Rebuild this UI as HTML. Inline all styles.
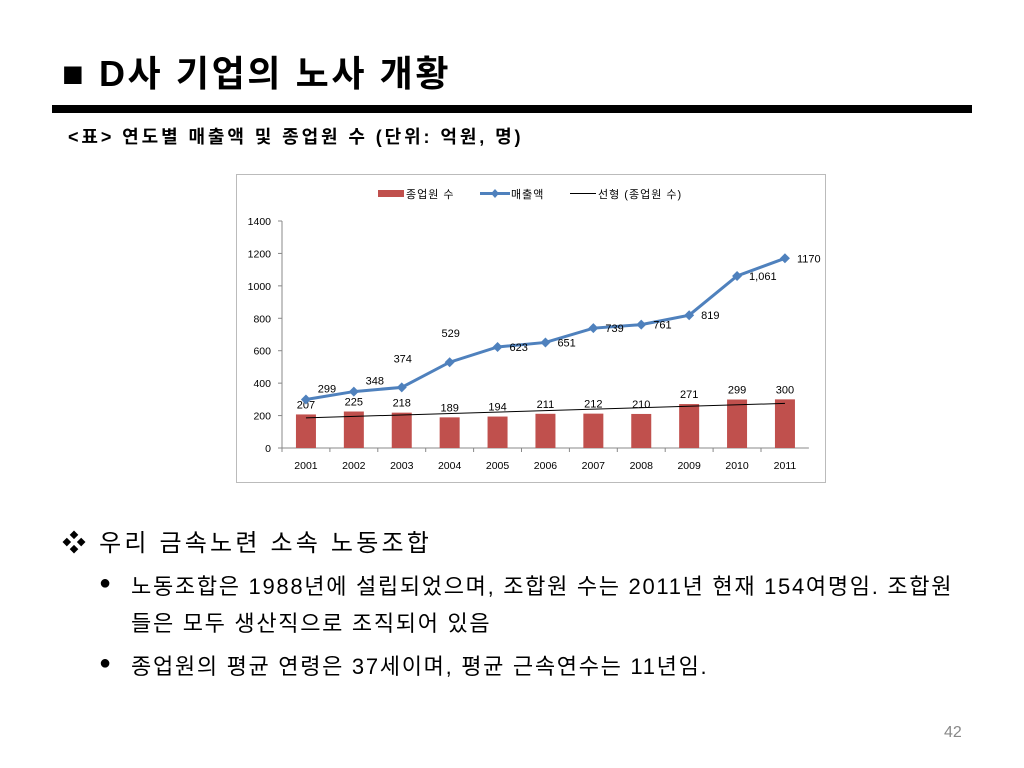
<!DOCTYPE html>
<html><head><meta charset="utf-8"><style>
body{margin:0;width:1024px;height:768px;background:#fff;position:relative;overflow:hidden;font-family:"Liberation Sans","Noto Sans CJK KR",sans-serif;}
.t{position:absolute;white-space:nowrap;color:#000;}
.b{font-size:22px;letter-spacing:1.7px;}
</style></head><body>
<div class="t" style="left:62px;top:45px;font-size:36px;font-weight:bold;letter-spacing:2.6px;">■ D사 기업의 노사 개황</div>
<div style="position:absolute;left:52px;top:105px;width:920px;height:8px;background:#000;"></div>
<div class="t" style="left:68px;top:123px;font-size:18px;font-weight:bold;letter-spacing:2.9px;">&lt;표&gt; 연도별 매출액 및 종업원 수 (단위: 억원, 명)</div>
<svg width="1024" height="768" style="position:absolute;left:0;top:0" id="svg"></svg>
<div class="t" style="left:62px;top:523px;font-size:24px;letter-spacing:3.2px;">❖ 우리 금속노련 소속 노동조합</div>
<div class="t" style="left:99px;top:572px;font-size:20px;">●</div>
<div class="t b" style="left:131px;top:569px;">노동조합은 1988년에 설립되었으며, 조합원 수는 2011년 현재 154여명임. 조합원</div>
<div class="t b" style="left:131px;top:606px;">들은 모두 생산직으로 조직되어 있음</div>
<div class="t" style="left:99px;top:652px;font-size:20px;">●</div>
<div class="t b" style="left:131px;top:649px;">종업원의 평균 연령은 37세이며, 평균 근속연수는 11년임.</div>
<div class="t" style="left:944px;top:724px;font-size:16px;color:#888;">42</div>
<script>
const years=["2001","2002","2003","2004","2005","2006","2007","2008","2009","2010","2011"];
const employees=[207,225,218,189,194,211,212,210,271,299,300];
const sales=[299,348,374,529,623,651,739,761,819,1061,1170];
const salesLabels=["299","348","374","529","623","651","739","761","819","1,061","1170"];
const yTicks=[0,200,400,600,800,1000,1200,1400];
const NS="http://www.w3.org/2000/svg";
const svg=document.getElementById('svg');
const x0=282,step=47.9,yZero=448,yTop=221,yMax=1400;
const X=i=>x0+step*(i+0.5);
const Y=v=>yZero-(yZero-yTop)*v/yMax;
function el(tag,attrs,txt){const e=document.createElementNS(NS,tag);for(const k in attrs)e.setAttribute(k,attrs[k]);if(txt!=null)e.textContent=txt;svg.appendChild(e);return e;}
let e;
e=el('rect',{x:236.5,y:174.5,width:589,height:308,fill:'#fff',stroke:'#bbb'});


e=el('line',{x1:x0,y1:yTop,x2:x0,y2:yZero,stroke:'#888'});


e=el('line',{x1:x0,y1:yZero,x2:x0+step*11,y2:yZero,stroke:'#888'});


yTicks.forEach(v=>{
 e=el('text',{x:271,y:Y(v)+4,'text-anchor':'end','font-size':10.5,fill:'#000'},String(v));
 
 
 el('line',{x1:x0-4,y1:Y(v),x2:x0,y2:Y(v),stroke:'#888'});
});
years.forEach((y,i)=>{
 el('line',{x1:x0+step*i,y1:yZero,x2:x0+step*i,y2:yZero+4,stroke:'#888'});
 e=el('text',{x:X(i),y:469,'text-anchor':'middle','font-size':10.5,fill:'#000'},y);
 
 
 e=el('rect',{x:X(i)-10,y:Y(employees[i]),width:20,height:yZero-Y(employees[i]),fill:'#c0504d'});
 
 
 e=el('text',{x:X(i),y:Y(employees[i])-6,'text-anchor':'middle','font-size':11,fill:'#000'},String(employees[i]));
 
 
});
const n=employees.length;let sx=0,sy=0,sxy=0,sxx=0;
employees.forEach((v,i)=>{sx+=i;sy+=v;sxy+=i*v;sxx+=i*i;});
const b=(n*sxy-sx*sy)/(n*sxx-sx*sx),a=(sy-b*sx)/n;
e=el('line',{x1:X(0),y1:Y(a),x2:X(n-1),y2:Y(a+b*(n-1)),stroke:'#000','stroke-width':1});


e=el('polyline',{points:sales.map((v,i)=>X(i)+','+Y(v)).join(' '),fill:'none',stroke:'#4f81bd','stroke-width':3});


sales.forEach((v,i)=>{
 const cx=X(i),cy=Y(v);
 e=el('polygon',{points:`${cx},${cy-5} ${cx+5},${cy} ${cx},${cy+5} ${cx-5},${cy}`,fill:'#4f81bd'});
 
 
 let lx,ly,anc;
 if(i<2){lx=cx+21;ly=cy-7;anc='middle';}
 else if(i<4){lx=cx+1;ly=cy-25;anc='middle';}
 else{lx=cx+12;ly=cy+4;anc='start';}
 e=el('text',{x:lx,y:ly,'text-anchor':anc,'font-size':11,fill:'#000'},salesLabels[i]);
 
 
});
e=el('rect',{x:378,y:190,width:26,height:7,fill:'#c0504d'});


e=el('text',{x:406,y:198,'font-size':11,fill:'#000','letter-spacing':1},'종업원 수');


el('line',{x1:480,y1:193.5,x2:510,y2:193.5,stroke:'#4f81bd','stroke-width':3});
el('polygon',{points:'495,189 499,193.5 495,198 491,193.5',fill:'#4f81bd'});
e=el('text',{x:511,y:198,'font-size':11,fill:'#000','letter-spacing':1},'매출액');


el('line',{x1:570,y1:193.5,x2:596,y2:193.5,stroke:'#000','stroke-width':1});
e=el('text',{x:598,y:198,'font-size':11,fill:'#000','letter-spacing':1},'선형 (종업원 수)');


</script>
</body></html>
